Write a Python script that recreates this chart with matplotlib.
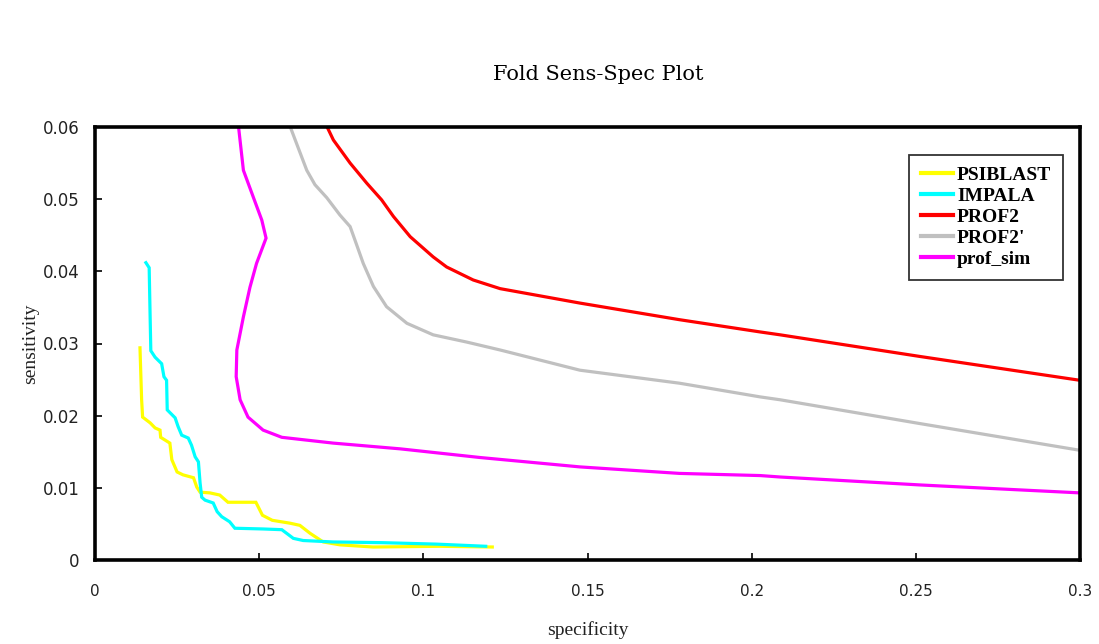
import matplotlib
matplotlib.use("Agg")
import matplotlib.pyplot as plt
from matplotlib import font_manager

# ---- data (specificity, sensitivity) ----
psiblast_x = [0.0137, 0.0142, 0.0145, 0.0168, 0.0183, 0.0198, 0.0200, 0.0228, 0.0234, 0.0250,
              0.0268, 0.0300, 0.0310, 0.0320, 0.0350, 0.0380, 0.0405, 0.0490, 0.0510, 0.0540,
              0.0594, 0.0624, 0.0655, 0.0695, 0.0746, 0.0847, 0.1050, 0.1210]
psiblast_y = [0.0294, 0.0222, 0.0198, 0.0190, 0.0183, 0.0180, 0.0170, 0.0162, 0.0139, 0.0122,
              0.0118, 0.0114, 0.0101, 0.0094, 0.0093, 0.0090, 0.0080, 0.0080, 0.0062, 0.0055,
              0.0051, 0.0048, 0.0037, 0.0025, 0.0021, 0.0018, 0.0019, 0.0018]

impala_x = [0.0155, 0.0165, 0.0168, 0.0170, 0.0183, 0.0203, 0.0210, 0.0218, 0.0220, 0.0244,
            0.0253, 0.0264, 0.0284, 0.0294, 0.0305, 0.0315, 0.0320, 0.0325, 0.0335, 0.0360,
            0.0372, 0.0386, 0.0410, 0.0426, 0.0512, 0.0569, 0.0604, 0.0634, 0.0725, 0.0877,
            0.1040, 0.1190]
impala_y = [0.0412, 0.0405, 0.0335, 0.0290, 0.0281, 0.0272, 0.0254, 0.0249, 0.0208, 0.0197,
            0.0185, 0.0173, 0.0169, 0.0159, 0.0143, 0.0136, 0.0107, 0.0087, 0.0083, 0.0079,
            0.0067, 0.0060, 0.0053, 0.0044, 0.0043, 0.0042, 0.0030, 0.0027, 0.0025, 0.0024,
            0.0022, 0.0019]

prof2_x = [0.0706, 0.0726, 0.0777, 0.0828, 0.0873, 0.0909, 0.0960, 0.1030, 0.1071, 0.1152,
           0.1234, 0.1477, 0.1780, 0.2026, 0.2087, 0.2513, 0.3000]
prof2_y = [0.0601, 0.0582, 0.0550, 0.0522, 0.0499, 0.0476, 0.0448, 0.0420, 0.0406, 0.0388,
           0.0376, 0.0356, 0.0333, 0.0316, 0.0312, 0.0282, 0.0249]

prof2p_x = [0.0594, 0.0614, 0.0645, 0.0670, 0.0706, 0.0746, 0.0777, 0.0792, 0.0817, 0.0848,
            0.0888, 0.0950, 0.1030, 0.1132, 0.1234, 0.1477, 0.1780, 0.2026, 0.2087, 0.2513,
            0.3000]
prof2p_y = [0.0601, 0.0577, 0.0540, 0.0520, 0.0502, 0.0478, 0.0462, 0.0443, 0.0411, 0.0379,
            0.0351, 0.0328, 0.0312, 0.0302, 0.0291, 0.0263, 0.0245, 0.0226, 0.0222, 0.0189,
            0.0152]

profsim_x = [0.0437, 0.0452, 0.0482, 0.0508, 0.0521, 0.0492, 0.0472, 0.0452, 0.0432, 0.0430,
             0.0442, 0.0466, 0.0512, 0.0569, 0.0725, 0.0930, 0.1173, 0.1477, 0.1780, 0.2026,
             0.2087, 0.2513, 0.3000]
profsim_y = [0.0601, 0.0540, 0.0503, 0.0471, 0.0446, 0.0411, 0.0378, 0.0337, 0.0291, 0.0254,
             0.0222, 0.0198, 0.0180, 0.0170, 0.0162, 0.0154, 0.0142, 0.0129, 0.0120, 0.0117,
             0.0115, 0.0104, 0.0093]

labels = ["PSIBLAST", "IMPALA", "PROF2", "PROF2'", "prof_sim"]
colors = ["#FFFF00", "#00FFFF", "#FF0000", "#C0C0C0", "#FF00FF"]

x_ticks = [0, 0.05, 0.1, 0.15, 0.2, 0.25, 0.3]
x_tick_labels = ["0", "0.05", "0.1", "0.15", "0.2", "0.25", "0.3"]
y_ticks = [0, 0.01, 0.02, 0.03, 0.04, 0.05, 0.06]
y_tick_labels = ["0", "0.01", "0.02", "0.03", "0.04", "0.05", "0.06"]

# narrow font for x tick labels if available
installed = {f.name for f in font_manager.fontManager.ttflist}
xfont = "Liberation Sans Narrow" if "Liberation Sans Narrow" in installed else "DejaVu Sans"
xsize = 13 if xfont == "Liberation Sans Narrow" else 11

# ---- figure ----
fig = plt.figure(figsize=(10.99, 6.44), dpi=100)
ax = fig.add_axes([95 / 1099, 1 - 560 / 644, 985 / 1099, 433 / 644])

series = [(psiblast_x, psiblast_y), (impala_x, impala_y), (prof2_x, prof2_y),
          (prof2p_x, prof2p_y), (profsim_x, profsim_y)]
for (xs, ys), lab, col in zip(series, labels, colors):
    ax.plot(xs, ys, color=col, lw=2.3, label=lab, solid_joinstyle="miter")

ax.set_xlim(0, 0.3)
ax.set_ylim(0, 0.06)
ax.set_xticks(x_ticks)
ax.set_xticklabels(x_tick_labels, fontfamily=xfont, fontsize=xsize, color="#222222")
ax.set_yticks(y_ticks)
ax.set_yticklabels(y_tick_labels, fontfamily="DejaVu Sans", fontsize=12, color="#222222")
ax.tick_params(axis="both", direction="in", length=5, width=1.2)
ax.tick_params(axis="x", pad=17)
ax.tick_params(axis="y", pad=11)
for sp in ax.spines.values():
    sp.set_linewidth(2.6)
    sp.set_color("black")

ax.set_xlabel("specificity", fontfamily="Liberation Serif", fontsize=14, labelpad=16,
              color="#222222")
ax.set_ylabel("sensitivity", fontfamily="Liberation Serif", fontsize=14, labelpad=3,
              color="#222222")

fig.text(598 / 1099, 1 - 75 / 644, "Fold Sens-Spec Plot", ha="center", va="center",
         fontfamily="DejaVu Serif", fontsize=15)

leg = ax.legend(loc="upper right", bbox_to_anchor=((1063 - 95) / 985, (560 - 155) / 433),
                borderaxespad=0, frameon=True, fancybox=False, shadow=False,
                prop={"family": "Liberation Serif", "weight": "bold", "size": 14},
                handlelength=1.65, handletextpad=0.2, labelspacing=0.17,
                borderpad=0.6)
leg.get_frame().set_edgecolor("black")
leg.get_frame().set_linewidth(1.3)
for ln in leg.get_lines():
    ln.set_linewidth(3)

fig.savefig("out.png", dpi=100)
